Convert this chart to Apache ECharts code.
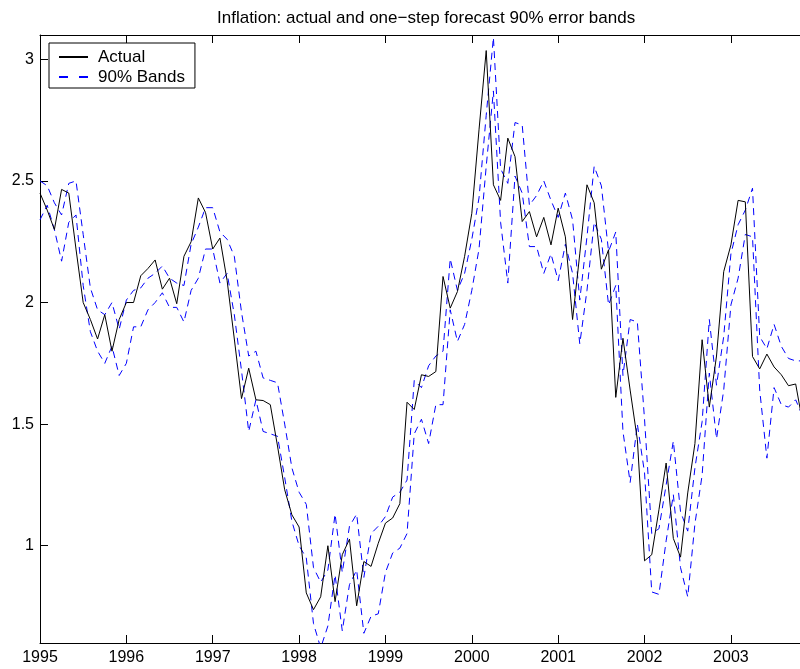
<!DOCTYPE html>
<html>
<head>
<meta charset="utf-8">
<script src="https://cdn.jsdelivr.net/npm/echarts@6/dist/echarts.min.js"></script>
<style>
html,body{margin:0;padding:0;background:#fff;}
#chart{width:800px;height:669px;}
</style>
</head>
<body>
<div id="chart"></div>
<script>
// Monthly observations starting January 1995
var startYear = 1995;
var actual = [
2.45,2.38,2.30,2.465,2.45,2.22,2.00,1.93,1.85,1.95,1.80,1.93,
2.00,2.00,2.11,2.14,2.175,2.055,2.10,1.995,2.19,2.25,2.43,2.37,
2.22,2.265,2.09,1.85,1.605,1.73,1.60,1.597,1.58,1.41,1.23,1.127,
1.077,0.806,0.737,0.79,1.00,0.77,0.963,1.027,0.753,0.935,0.915,1.01,
1.093,1.114,1.173,1.59,1.56,1.703,1.696,1.716,2.107,1.977,2.045,2.19,
2.367,2.71,3.036,2.484,2.42,2.676,2.60,2.333,2.374,2.27,2.35,2.237,
2.388,2.27,1.93,2.2,2.484,2.41,2.137,2.217,1.61,1.853,1.64,1.436,
0.938,0.963,1.148,1.34,1.03,0.953,1.217,1.42,1.847,1.57,1.78,2.127,
2.237,2.42,2.414,1.778,1.727,1.788,1.735,1.703,1.658,1.665,1.50
];
var upperBand = [
2.50,2.48,2.41,2.36,2.49,2.50,2.28,2.06,1.97,1.95,2.00,1.89,
2.01,2.05,2.06,2.10,2.12,2.15,2.10,2.08,2.07,2.24,2.31,2.39,
2.39,2.29,2.26,2.19,1.96,1.78,1.80,1.69,1.68,1.67,1.50,1.32,
1.22,1.17,0.91,0.85,0.90,1.13,0.89,1.08,1.13,0.87,1.05,1.08,
1.12,1.20,1.22,1.27,1.68,1.65,1.74,1.78,1.80,2.18,2.05,2.12,
2.26,2.43,2.77,3.09,2.55,2.49,2.74,2.73,2.40,2.44,2.50,2.42,
2.35,2.45,2.34,2.01,2.27,2.56,2.48,2.21,2.29,1.70,1.93,1.92,
1.52,1.05,1.07,1.25,1.43,1.14,1.06,1.32,1.51,1.93,1.66,1.86,
2.20,2.32,2.38,2.47,1.86,1.81,1.91,1.82,1.77,1.76,1.76
];
var lowerBand = [
2.34,2.40,2.30,2.17,2.33,2.36,2.07,1.88,1.80,1.75,1.82,1.70,
1.75,1.90,1.90,1.97,2.00,2.04,1.98,1.98,1.92,2.05,2.10,2.22,
2.22,2.08,2.12,1.95,1.72,1.47,1.60,1.47,1.46,1.45,1.28,1.10,
1.00,0.95,0.68,0.58,0.67,0.88,0.65,0.84,0.90,0.64,0.71,0.72,
0.89,0.97,0.99,1.05,1.46,1.52,1.42,1.58,1.58,1.97,1.84,1.91,
2.05,2.22,2.56,2.87,2.33,2.08,2.52,2.45,2.23,2.23,2.12,2.20,
2.09,2.24,2.12,1.83,2.05,2.33,2.26,1.99,2.07,1.47,1.26,1.50,
1.30,0.81,0.80,1.02,1.21,0.91,0.79,1.09,1.29,1.71,1.44,1.64,
1.99,2.10,2.28,2.27,1.64,1.36,1.65,1.58,1.57,1.60,1.53
];
var xTicks = [1995,1996,1997,1998,1999,2000,2001,2002,2003];
var yTicks = [1,1.5,2,2.5,3];
var titleText = 'Inflation: actual and one\u2212step forecast 90% error bands';

function toPairs(arr){
  return arr.map(function(v,i){ return [startYear + i/12, v]; });
}

var chart = echarts.init(document.getElementById('chart'), null, {renderer:'canvas'});
var FONT = '"Liberation Sans", Arial, Helvetica, sans-serif';
var xMin = 1995, xMax = 2003.8;

var option = {
  animation: false,
  backgroundColor: '#ffffff',
  textStyle: {fontFamily: FONT},
  title: {
    text: titleText,
    left: 217, top: 10, padding: 0,
    textStyle: {fontFamily: FONT, fontSize: 17, fontWeight: 'normal', color: '#000'}
  },
  grid: {left: 40, right: 0, top: 35, bottom: 26, containLabel: false},
  legend: {
    orient: 'vertical',
    left: 49, top: 43,
    padding: [5, 10, 2, 9],
    itemWidth: 29, itemHeight: 14, itemGap: 2,
    backgroundColor: '#ffffff',
    borderColor: '#000', borderWidth: 1,
    data: [
      {name: 'Actual'},
      {name: '90% Bands', lineStyle: {type: [9, 11]}}
    ],
    itemStyle: {opacity: 0},
    textStyle: {fontFamily: FONT, fontSize: 17, lineHeight: 18, color: '#000', padding: [0,0,0,5]}
  },
  xAxis: [{
    type: 'value', position: 'bottom', min: xMin, max: xMax,
    axisLine: {show: true, onZero: false, lineStyle: {color: '#000', width: 1}},
    axisTick: {show: true, inside: true, length: 8, lineStyle: {color: '#000'}, customValues: xTicks},
    axisLabel: {show: true, color: '#000', fontSize: 16, fontFamily: FONT, margin: 7, customValues: xTicks,
      formatter: function(v){ return String(Math.round(v)); }},
    splitLine: {show: false}
  },{
    type: 'value', position: 'top', min: xMin, max: xMax,
    axisLine: {show: true, onZero: false, lineStyle: {color: '#000', width: 1}},
    axisTick: {show: true, inside: true, length: 8, lineStyle: {color: '#000'}, customValues: xTicks},
    axisLabel: {show: false},
    splitLine: {show: false}
  }],
  yAxis: [{
    type: 'value', min: 0.6, max: 3.1,
    axisLine: {show: true, onZero: false, lineStyle: {color: '#000', width: 1}},
    axisTick: {show: true, inside: true, length: 8, lineStyle: {color: '#000'}, customValues: yTicks},
    axisLabel: {show: true, color: '#000', fontSize: 16, fontFamily: FONT, margin: 6, customValues: yTicks,
      formatter: function(v){ return String(v); }},
    splitLine: {show: false}
  }],
  series: [
    {name: 'Actual', type: 'line', data: toPairs(actual), showSymbol: false, symbol: 'none',
     lineStyle: {color: '#000', width: 1}, itemStyle: {color: '#000'}, z: 3},
    {name: '90% Bands', type: 'line', data: toPairs(upperBand), showSymbol: false, symbol: 'none',
     lineStyle: {color: '#0000ff', width: 1, type: [7, 5]}, itemStyle: {color: '#0000ff'}, z: 2},
    {name: '90% Bands', type: 'line', data: toPairs(lowerBand), showSymbol: false, symbol: 'none',
     lineStyle: {color: '#0000ff', width: 1, type: [7, 5]}, itemStyle: {color: '#0000ff'}, z: 2}
  ]
};
chart.setOption(option);
</script>
</body>
</html>
